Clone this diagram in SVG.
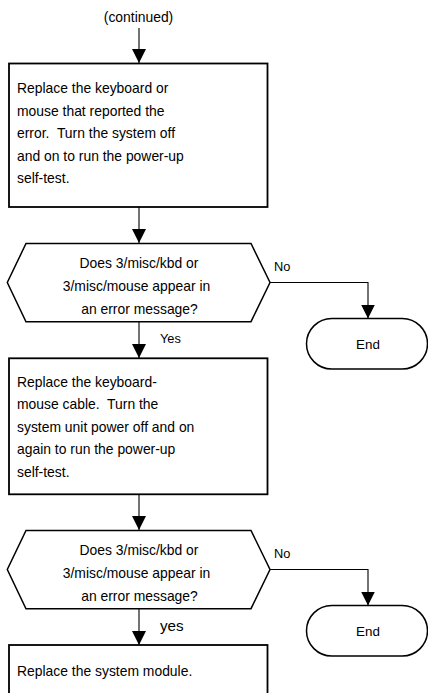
<svg xmlns="http://www.w3.org/2000/svg" width="428" height="693" viewBox="0 0 428 693">
<style>
text{font-family:"Liberation Sans",Arial,sans-serif;fill:#000;white-space:pre}
.t{font-size:13.9px}
.c{text-anchor:middle}
.lbl{font-size:12.8px}
.end{font-size:13.4px}
.box{fill:#fff;stroke:#000;stroke-width:1.8}
.hex{fill:#fff;stroke:#000;stroke-width:1.5}
.term{fill:#fff;stroke:#000;stroke-width:1.5}
.con{fill:none;stroke:#000;stroke-width:1.1}
</style>
<defs>
<marker id="ah" markerUnits="userSpaceOnUse" markerWidth="14" markerHeight="14" refX="14" refY="7" orient="auto" viewBox="0 0 14 14">
<path d="M0,0 L14,7 L0,14 z" fill="#000"/>
</marker>
</defs>
<rect width="428" height="693" fill="#fff"/>
<g id="continued"><text class="t c" x="138.5" y="21.5">(continued)</text></g>
<g id="connectors">
<path class="con" d="M139,28 V63" marker-end="url(#ah)"/>
<path class="con" d="M139,207 V243" marker-end="url(#ah)"/>
<path class="con" d="M139,322 V358" marker-end="url(#ah)"/>
<path class="con" d="M270,282.5 H368 V318.5" marker-end="url(#ah)"/>
<path class="con" d="M139,494 V530" marker-end="url(#ah)"/>
<path class="con" d="M139,609 V645" marker-end="url(#ah)"/>
<path class="con" d="M270,569.5 H368 V605.5" marker-end="url(#ah)"/>
<text class="lbl" x="274" y="271">No</text>
<text class="lbl" x="160" y="343">Yes</text>
<text class="lbl" x="274" y="558">No</text>
<text x="160" y="631" style="font-size:15.2px">yes</text>
</g>
<g id="box1">
<rect class="box" x="9" y="63.5" width="258.5" height="143.5"/>
<text class="t" x="17" y="93" xml:space="preserve">Replace the keyboard or</text>
<text class="t" x="17" y="115.6" xml:space="preserve">mouse that reported the</text>
<text class="t" x="17" y="138.2" xml:space="preserve">error.  Turn the system off</text>
<text class="t" x="17" y="160.8" xml:space="preserve">and on to run the power-up</text>
<text class="t" x="17" y="183.4" xml:space="preserve">self-test.</text>
</g>
<g id="decision1">
<polygon class="hex" points="26,243.5 251,243.5 270,282.5 251,321.7 26,321.7 7.3,282.5"/>
<text class="t c" x="139" y="268">Does 3/misc/kbd or</text>
<text class="t c" x="136.5" y="291">3/misc/mouse appear in</text>
<text class="t c" x="139.5" y="314">an error message?</text>
</g>
<g id="end1">
<rect class="term" x="306.5" y="318.5" width="121" height="50.5" rx="25.25"/>
<text class="end c" x="368" y="349">End</text>
</g>
<g id="box2">
<rect class="box" x="9" y="358.3" width="258.5" height="136"/>
<text class="t" x="17" y="386.5" xml:space="preserve">Replace the keyboard-</text>
<text class="t" x="17" y="409" xml:space="preserve">mouse cable.  Turn the</text>
<text class="t" x="17" y="431.6" xml:space="preserve">system unit power off and on</text>
<text class="t" x="17" y="454.2" xml:space="preserve">again to run the power-up</text>
<text class="t" x="17" y="476.8" xml:space="preserve">self-test.</text>
</g>
<g id="decision2">
<polygon class="hex" points="26,530.5 251,530.5 270,569.5 251,608.7 26,608.7 7.3,569.5"/>
<text class="t c" x="139" y="555">Does 3/misc/kbd or</text>
<text class="t c" x="136.5" y="578">3/misc/mouse appear in</text>
<text class="t c" x="139.5" y="601">an error message?</text>
</g>
<g id="end2">
<rect class="term" x="306.5" y="605.5" width="121" height="50.5" rx="25.25"/>
<text class="end c" x="368" y="636">End</text>
</g>
<g id="box3">
<rect class="box" x="9" y="645" width="258.5" height="60"/>
<text class="t" x="17" y="676">Replace the system module.</text>
</g>
</svg>
